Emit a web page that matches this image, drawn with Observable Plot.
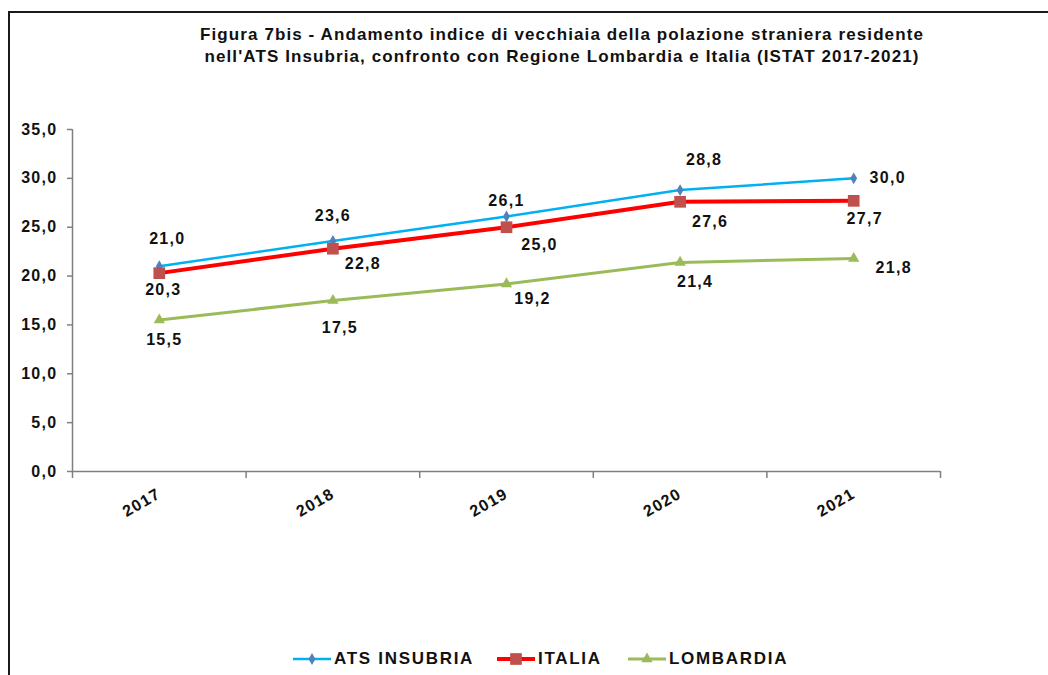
<!DOCTYPE html>
<html>
<head>
<meta charset="utf-8">
<script src="https://cdn.jsdelivr.net/npm/d3@7"></script>
<script src="https://cdn.jsdelivr.net/npm/@observablehq/plot@0.6"></script>
<style>
  html, body { margin: 0; padding: 0; background: #fff; }
  body { width: 1048px; height: 675px; overflow: hidden; position: relative; font-family: "Liberation Sans", Arial, sans-serif; }
  #frame { position: absolute; left: 8px; top: 11px; width: 1100px; height: 700px; border-top: 2px solid #1a1a1a; border-left: 2px solid #1a1a1a; }
  #title { position: absolute; left: 96px; width: 932px; top: 24px; text-align: center; font-weight: bold; font-size: 17px; line-height: 22px; color: #111; letter-spacing: 1.1px; }
  #chart { position: absolute; left: 0; top: 90px; }
  #chart svg text { letter-spacing: 1.3px; }
  .leg { position: absolute; top: 649px; height: 20px; display: flex; align-items: center; }
  .leg span { font-weight: bold; font-size: 17px; letter-spacing: 1.7px; color: #111; margin-left: 3px; }
</style>
</head>
<body>
<div id="frame"></div>
<div id="title">Figura 7bis - Andamento indice di vecchiaia della polazione straniera residente<br>nell'ATS Insubria, confronto con Regione Lombardia e Italia (ISTAT 2017-2021)</div>
<div id="chart"></div>
<div id="legend"></div>
<script>
// ---- data ----
const years = [2017, 2018, 2019, 2020, 2021];
const seriesNames = ["ATS INSUBRIA", "ITALIA", "LOMBARDIA"];
const atsInsubria = [21.0, 23.6, 26.1, 28.8, 30.0];
const italia = [20.3, 22.8, 25.0, 27.6, 27.7];
const lombardia = [15.5, 17.5, 19.2, 21.4, 21.8];
const yTicks = [0, 5, 10, 15, 20, 25, 30, 35];

// ---- styles ----
const styles = [
  {line: "#00B0F0", width: 2.5, marker: "diamond", markerFill: "#4F81BD", r: 3.6,
   dx: [8, 0, 0, 24, 34], dy: [-27, -25, -16, -30, 0]},
  {line: "#FF0000", width: 4, marker: "square", markerFill: "#C0504D", r: 6.6,
   dx: [4, 30, 33, 30, 11], dy: [17, 15, 18, 20, 18]},
  {line: "#9BBB59", width: 3, marker: "triangle", markerFill: "#9BBB59", r: 4.2,
   dx: [5, 7, 26, 15, 40], dy: [20, 27, 15, 19, 9]}
];
const values = [atsInsubria, italia, lombardia];
const fmt = d => d.toFixed(1).replace(".", ",");

const bounds = [years[0] - 0.5, ...years.map(y => y + 0.5)];

const marks = [
  Plot.axisY(yTicks, {tickSize: 5, tickPadding: 10, tickFormat: fmt, fontSize: 16, fontWeight: "bold", fill: "#111", stroke: "#808080", strokeWidth: 1.5, label: null}),
  Plot.axisX(bounds, {tickSize: 7, tickFormat: () => "", stroke: "#808080", strokeWidth: 1.5, label: null}),
  Plot.axisX(years, {tickSize: 0, tickPadding: 21, tickRotate: -30, tickFormat: d => String(d), fontSize: 16, fontWeight: "bold", fill: "#111", label: null}),
  Plot.ruleX([bounds[0]], {stroke: "#808080", strokeWidth: 1.5}),
  Plot.ruleY([0], {stroke: "#808080", strokeWidth: 1.5})
];

values.forEach((vals, s) => {
  const st = styles[s];
  const data = years.map((y, i) => ({year: y, value: vals[i], series: seriesNames[s]}));
  marks.push(Plot.line(data, {x: "year", y: "value", stroke: st.line, strokeWidth: st.width}));
  marks.push(Plot.dot(data, {x: "year", y: "value", symbol: st.marker, r: st.r, fill: st.markerFill, stroke: "none"}));
});
values.forEach((vals, s) => {
  const st = styles[s];
  years.forEach((y, i) => {
    marks.push(Plot.text([{year: y, value: vals[i]}], {
      x: "year", y: "value", text: d => fmt(d.value),
      dx: st.dx[i], dy: st.dy[i], fontSize: 16, fontWeight: "bold", fill: "#111",
      textAnchor: "middle", lineAnchor: "middle"
    }));
  });
});

const chart = Plot.plot({
  width: 1048,
  height: 450,
  marginTop: 39,
  marginBottom: 69,
  marginLeft: 72,
  marginRight: 108,
  style: {fontFamily: "'Liberation Sans', Arial, sans-serif", background: "transparent", overflow: "visible"},
  x: {type: "linear", domain: [bounds[0], bounds[bounds.length - 1]]},
  y: {domain: [0, 35]},
  marks
});
document.getElementById("chart").appendChild(chart);

// ---- legend ----
const legendPos = [293, 497, 628];
const legend = document.getElementById("legend");
seriesNames.forEach((name, s) => {
  const st = styles[s];
  const item = document.createElement("div");
  item.className = "leg";
  item.style.left = legendPos[s] + "px";
  const sym = d3.symbol().type(st.marker === "diamond" ? d3.symbolDiamond : st.marker === "square" ? d3.symbolSquare : d3.symbolTriangle).size(Math.PI * st.r * st.r)();
  item.innerHTML = `<svg width="38" height="18"><line x1="0" x2="38" y1="9" y2="9" stroke="${st.line}" stroke-width="${st.width}"/><path transform="translate(19,9)" d="${sym}" fill="${st.markerFill}"/></svg><span>${name}</span>`;
  legend.appendChild(item);
});
</script>
</body>
</html>
